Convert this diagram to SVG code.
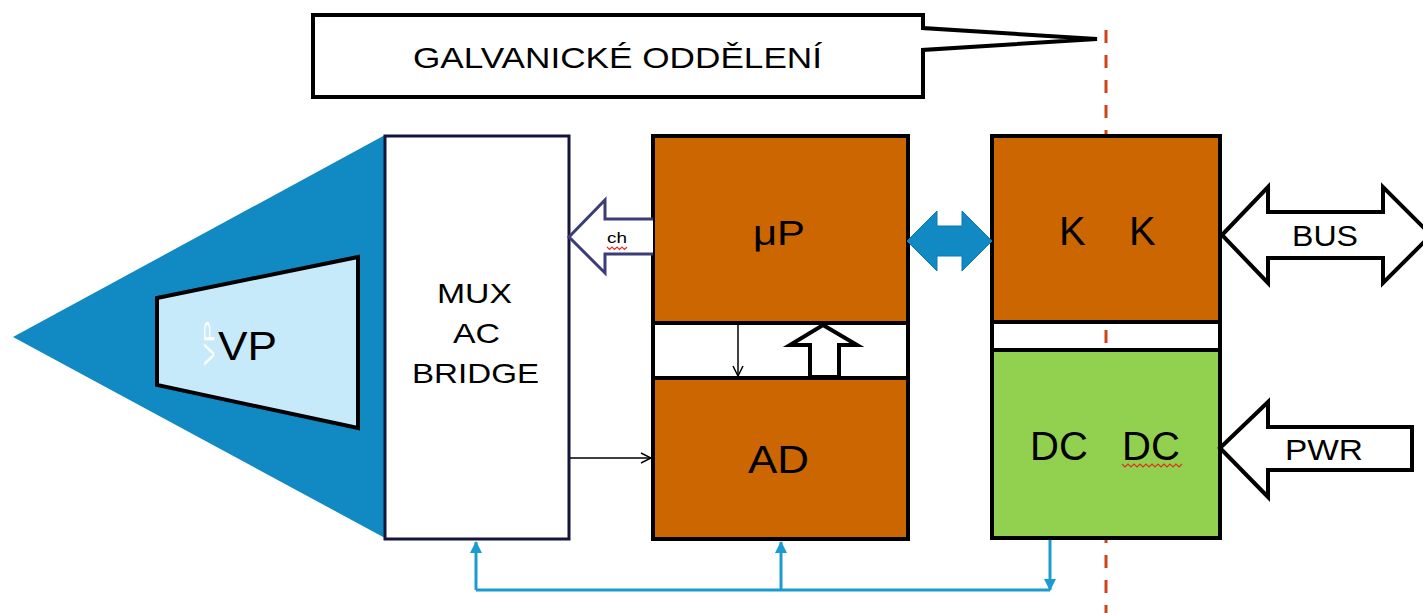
<svg xmlns="http://www.w3.org/2000/svg" width="1423" height="613" viewBox="0 0 1423 613">
  <style>
    text { font-family: "Liberation Sans", Arial, sans-serif; fill: #000; }
    .orange { fill: #cc6600; }
    .green { fill: #92d050; }
    .blk { stroke: #000; stroke-width: 4; }
    .blue { stroke: #1b9bd1; stroke-width: 3; fill: none; }
    .thin { stroke: #000; stroke-width: 1.5; fill: none; }
    .wavy { stroke: #e03020; stroke-width: 1.2; fill: none; }
  </style>
  <defs>
    <marker id="bluehead" viewBox="0 0 12 12" refX="11" refY="6" markerWidth="12" markerHeight="12" markerUnits="userSpaceOnUse" orient="auto">
      <path d="M0,0 L12,6 L0,12 Z" fill="#1b9bd1"/>
    </marker>
    <marker id="openv" viewBox="0 0 12 12" refX="11" refY="6" markerWidth="12" markerHeight="12" markerUnits="userSpaceOnUse" orient="auto">
      <path d="M1,1 L11,6 L1,11" fill="none" stroke="#000" stroke-width="1.5"/>
    </marker>
  </defs>
  <rect width="1423" height="613" fill="#fff"/>

  <!-- isolation line -->
  <line id="isolation" x1="1106" y1="30" x2="1106" y2="613" stroke="#cc4418" stroke-width="3" stroke-dasharray="13 12"/>

  <g id="callout">
    <path d="M313,15 H923 V28 L1097,39 L923,50 V97 H313 Z" fill="#fff" stroke="#000" stroke-width="4" stroke-linejoin="miter"/>
    <text x="413" y="68" font-size="29" textLength="409" lengthAdjust="spacingAndGlyphs">GALVANICKÉ ODDĚLENÍ</text>
  </g>

  <g id="sensor">
    <polygon points="13,337 385,135 385,538" fill="#1189c3"/>
    <polygon points="157,298 358,257 358,428 157,385" fill="#c6eaf9" stroke="#000" stroke-width="4"/>
    <text x="0" y="0" font-size="15" font-family="Liberation Serif, serif" style="fill:#fff" transform="translate(214,366) rotate(-90)" textLength="46" lengthAdjust="spacingAndGlyphs">VP</text>
    <text x="218" y="360" font-size="40" textLength="59" lengthAdjust="spacingAndGlyphs">VP</text>
  </g>

  <g id="mux">
    <rect x="385" y="136" width="184" height="403" fill="#fff" stroke="#14143c" stroke-width="3"/>
    <text x="437" y="303" font-size="28" textLength="75" lengthAdjust="spacingAndGlyphs">MUX</text>
    <text x="453" y="343" font-size="28" textLength="47" lengthAdjust="spacingAndGlyphs">AC</text>
    <text x="412" y="383" font-size="28" textLength="127" lengthAdjust="spacingAndGlyphs">BRIDGE</text>
  </g>

  <g id="mcu">
    <rect x="653" y="136" width="255" height="403" class="orange blk"/>
    <rect x="653" y="323" width="255" height="55" fill="#fff" class="blk"/>
    <text x="753" y="245" font-size="35" textLength="52" lengthAdjust="spacingAndGlyphs">μP</text>
    <text x="748" y="473" font-size="39" textLength="61" lengthAdjust="spacingAndGlyphs">AD</text>
  </g>

  <g id="comm">
    <rect x="992" y="136" width="228" height="186" class="orange"/>
    <rect x="992" y="350" width="228" height="188" class="green"/>
    <rect x="992" y="136" width="228" height="402" fill="none" class="blk"/>
    <line x1="992" y1="322" x2="1220" y2="322" class="blk"/>
    <line x1="992" y1="350" x2="1220" y2="350" class="blk"/>
    <text font-size="40"><tspan x="1059" y="245">K</tspan><tspan x="1129" y="245">K</tspan></text>
    <text font-size="40"><tspan x="1030" y="460">DC</tspan><tspan x="1122" y="460">DC</tspan></text>
    <path class="wavy" d="M1122,464 l3,3 l3,-3 l3,3 l3,-3 l3,3 l3,-3 l3,3 l3,-3 l3,3 l3,-3 l3,3 l3,-3 l3,3 l3,-3 l3,3 l3,-3 l3,3 l3,-3 l3,3 l3,-3"/>
  </g>

  <g id="bus">
    <polygon points="1222,235 1268,187 1268,212 1383,212 1383,187 1431,235 1383,283 1383,258 1268,258 1268,283" fill="#fff" class="blk"/>
    <text x="1292" y="246" font-size="29" textLength="66" lengthAdjust="spacingAndGlyphs">BUS</text>
  </g>

  <g id="pwr">
    <polygon points="1220,448 1268,402 1268,427 1412,427 1412,470 1268,470 1268,497" fill="#fff" class="blk"/>
    <text x="1285" y="460" font-size="30" textLength="78" lengthAdjust="spacingAndGlyphs">PWR</text>
  </g>

  <g id="connectors">
    <!-- ch arrow -->
    <path d="M653,219 L605,219 L605,200 L569,237 L605,273 L605,254 L653,254" fill="#fff" stroke="#3c3c78" stroke-width="3" stroke-linejoin="miter"/>
    <text x="607" y="243" font-size="14" textLength="20" lengthAdjust="spacingAndGlyphs">ch</text>
    <path class="wavy" d="M607,247 l2.5,2.5 l2.5,-2.5 l2.5,2.5 l2.5,-2.5 l2.5,2.5 l2.5,-2.5 l2.5,2.5 l2.5,-2.5"/>
    <!-- µP <-> KK -->
    <polygon points="907,241 937,211 937,226 962,226 962,211 992,241 962,271 962,256 937,256 937,271" fill="#1189c3" stroke="#0e78aa" stroke-width="1"/>
    <!-- MUX -> AD -->
    <line x1="570" y1="458" x2="651" y2="458" class="thin" marker-end="url(#openv)"/>
    <!-- µP -> AD thin -->
    <line x1="738" y1="325" x2="738" y2="376" class="thin" marker-end="url(#openv)"/>
    <!-- AD -> µP hollow -->
    <polygon points="823,325 857,345 839,345 839,377 810,377 810,345 790,345" fill="#fff" stroke="#000" stroke-width="4"/>
    <!-- power distribution -->
    <path class="blue" d="M476,590 H1050"/>
    <line class="blue" x1="476" y1="590" x2="476" y2="542" marker-end="url(#bluehead)"/>
    <line class="blue" x1="781" y1="590" x2="781" y2="542" marker-end="url(#bluehead)"/>
    <line class="blue" x1="1050" y1="540" x2="1050" y2="590" marker-end="url(#bluehead)"/>
  </g>
</svg>
